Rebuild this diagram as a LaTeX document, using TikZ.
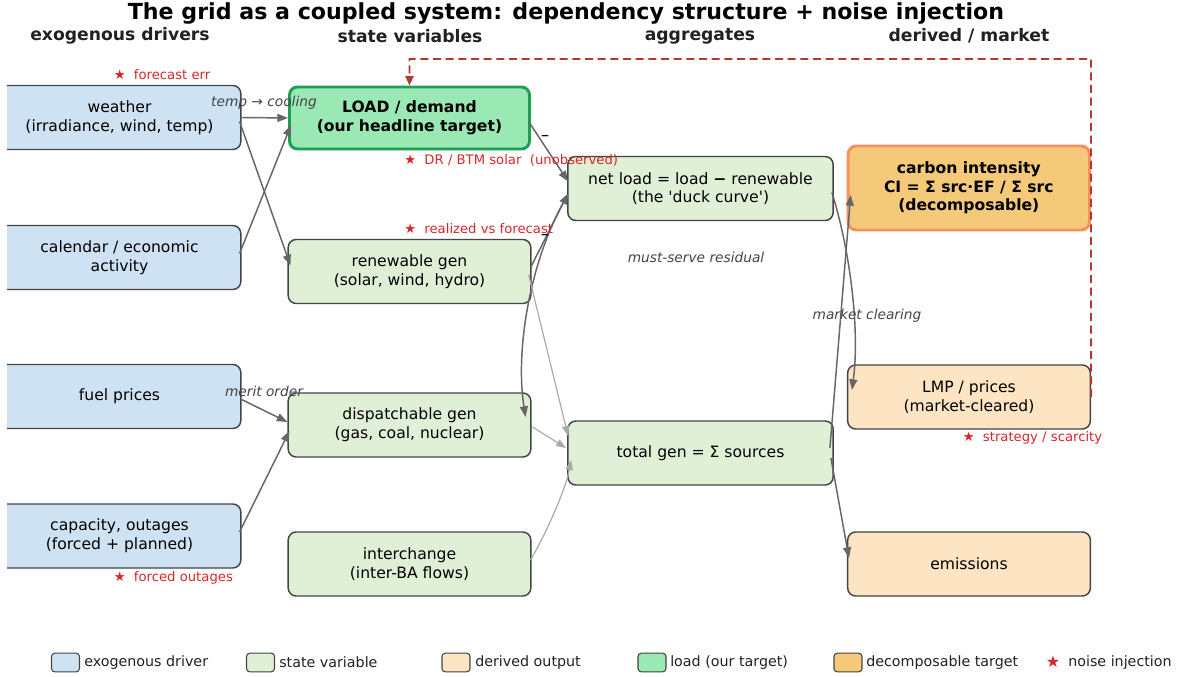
\documentclass[tikz,border=0pt]{standalone}
\usepackage{fontspec}
\setmainfont{DejaVu Sans}[Ligatures=TeXOff]
\usetikzlibrary{arrows.meta,calc}
\definecolor{exo}{HTML}{CFE2F3}
\definecolor{state}{HTML}{E0F0D6}
\definecolor{deriv}{HTML}{FDE4C2}
\definecolor{loadc}{HTML}{9AE8B4}
\definecolor{decomp}{HTML}{F4C97A}
\definecolor{edgeg}{HTML}{444444}
\definecolor{conn}{HTML}{666666}
\definecolor{lightc}{HTML}{AAAAAA}
\definecolor{noise}{HTML}{D62728}
\definecolor{fb}{HTML}{B03A2E}
\definecolor{loadb}{HTML}{1E9E52}
\definecolor{cib}{HTML}{F79060}
\tikzset{
  box/.style={draw=edgeg, line width=1.1pt, rounded corners=6pt, minimum width=182pt,
    minimum height=48pt, align=center, inner sep=0pt, text=black,
    font=\fontsize{11.7}{14}\selectfont},
  widebox/.style={box, minimum width=199pt},
  conn/.style={draw=conn, line width=1.1pt, -{Triangle[length=8pt,width=6pt]}},
  lconn/.style={draw=lightc, line width=0.9pt, -{Triangle[length=7.5pt,width=5.5pt]}},
  elabel/.style={font=\fontsize{10.3}{12}\selectfont\itshape, text=edgeg, inner sep=0pt},
  noiselbl/.style={font=\fontsize{9.9}{12}\selectfont, text=noise, anchor=west, inner sep=0pt},
  header/.style={font=\fontsize{12.9}{15}\selectfont\bfseries, text=black!87, inner sep=0pt},
  legbox/.style={draw=edgeg, line width=0.8pt, rounded corners=2.5pt, minimum width=21pt,
    minimum height=14pt, inner sep=0pt},
  legtext/.style={font=\fontsize{10.7}{12}\selectfont, text=black!87, anchor=west, inner sep=0pt},
  tick/.style={font=\fontsize{8}{9}\selectfont\bfseries, text=black, inner sep=0pt}
}
\begin{document}
\begin{tikzpicture}[x=0.75pt,y=-0.75pt]
\useasboundingbox (0,0) rectangle (1178,677);

% title and column headers
\node[font=\fontsize{16.6}{19}\selectfont\bfseries, inner sep=0pt] (title) at (566,13)
  {The grid as a coupled system: dependency structure + noise injection};
\node[header] (h1) at (120,36) {exogenous drivers};
\node[header] (h2) at (410,36) {state variables};
\node[header] (h3) at (700,36) {aggregates};
\node[header] (h4) at (969,36) {derived / market};

% exogenous drivers (clipped at left edge)
\begin{scope}
\clip (7,0) rectangle (1178,677);
\node[box, fill=exo] (weather) at (119.5,117.5) {weather\\(irradiance, wind, temp)};
\node[box, fill=exo] (cal) at (119.5,257.5) {calendar / economic\\activity};
\node[box, fill=exo] (fuel) at (119.5,396.5) {fuel prices};
\node[box, fill=exo] (cap) at (119.5,536) {capacity, outages\\(forced + planned)};
\end{scope}

% state variables
\node[box, fill=loadc, draw=loadb, line width=2.2pt, minimum width=180pt, minimum height=46.5pt,
  font=\fontsize{11.7}{14}\selectfont\bfseries] (load) at (409.5,118) {LOAD / demand\\(our headline target)};
\node[box, fill=state] (renew) at (409.5,271.5) {renewable gen\\(solar, wind, hydro)};
\node[box, fill=state] (disp) at (409.5,425) {dispatchable gen\\(gas, coal, nuclear)};
\node[box, fill=state] (inter) at (409.5,564) {interchange\\(inter-BA flows)};

% aggregates
\node[widebox, fill=state] (net) at (700.5,188.5) {net load = load {\bfseries−} renewable\\(the 'duck curve')};
\node[widebox, fill=state] (tot) at (700.5,453) {total gen = Σ sources};

% derived / market
\node[box, fill=decomp, draw=cib, line width=2.2pt, minimum width=181pt, minimum height=63pt,
  font=\fontsize{11.7}{14}\selectfont\bfseries] (ci) at (968.8,188) {carbon intensity\\CI = Σ src·EF / Σ src\\(decomposable)};
\node[box, fill=deriv] (lmp) at (969,397) {LMP / prices\\(market-cleared)};
\node[box, fill=deriv] (emis) at (969,564) {emissions};

% connectors: drivers -> state
\draw[conn] (weather.east) -- (load.west);
\draw[conn] ($(weather.east)+(-2,4)$) -- ($(renew.west)+(3,-6)$);
\draw[conn] ($(cal.east)+(-2,-4)$) -- ($(load.west)+(3,7)$);
\draw[conn] ($(fuel.east)+(0,3)$) -- ($(disp.west)+(0,-3)$);
\draw[conn] ($(cap.east)+(-2,-4)$) -- ($(disp.west)+(2,6)$);

% state -> aggregates
\draw[conn] ($(load.east)+(-2,4)$) -- ($(net.west)+(1,-7)$);
\draw[conn] ($(renew.east)+(-1,-4)$) -- ($(net.west)+(1,5)$);
\draw[conn] ($(net.west)+(-1,9)$) .. controls (530,260) and (515,350) .. ($(disp.east)+(-6,-8)$);
\draw[lconn] ($(renew.east)+(-3,3)$) -- ($(tot.west)+(1,-17)$);
\draw[lconn] ($(disp.east)+(1,2)$) -- ($(tot.west)+(-1,-5)$);
\draw[lconn] ($(inter.east)+(-1,-4)$) .. controls (545,535) and (565,492) .. ($(tot.west)+(4,7)$);

% aggregates -> derived
\draw[conn] ($(net.east)+(-2,4)$) .. controls (850,250) and (860,330) .. ($(lmp.west)+(5,-7)$);
\draw[conn] ($(tot.east)+(-4,-5)$) -- ($(ci.west)+(4,7)$);
\draw[conn] ($(tot.east)+(-3,5)$) -- ($(emis.west)+(2,-6)$);

% feedback
\draw[draw=fb, line width=1.4pt, dash pattern=on 6pt off 3.5pt, -{Triangle[length=7pt,width=6pt]}]
  (lmp.east) -- (1091,59) -- (409.5,59) -- (load.north);

% edge labels
\node[elabel] (l1) at (264,103) {temp → cooling};
\node[elabel] (l2) at (264,391) {merit order};
\node[elabel] (l3) at (696,257) {must-serve residual};
\node[elabel] (l4) at (867,316) {market clearing};
\node[tick] (t1) at (545,137.5) {−};
\node[tick] (t2) at (545,237) {−};

% noise labels
\node[noiselbl] (n1) at (113.5,75) {★~~forecast err};
\node[noiselbl] (n2) at (404,160) {★~~DR / BTM solar~~(unobserved)};
\node[noiselbl] (n3) at (404,229) {★~~realized vs forecast};
\node[noiselbl] (n4) at (113.5,578) {★~~forced outages};
\node[noiselbl] (n5) at (962.5,438) {★~~strategy / scarcity};

% legend
\node[legbox, fill=exo] (g1) at (65.5,662.5) {};
\node[legtext] (g1t) at (84,662.5) {exogenous driver};
\node[legbox, fill=state] (g2) at (260.5,662.5) {};
\node[legtext] (g2t) at (279,662.5) {state variable};
\node[legbox, fill=deriv] (g3) at (456,662.5) {};
\node[legtext] (g3t) at (475,662.5) {derived output};
\node[legbox, fill=loadc] (g4) at (652,662.5) {};
\node[legtext] (g4t) at (670,662.5) {load (our target)};
\node[legbox, fill=decomp] (g5) at (848,662.5) {};
\node[legtext] (g5t) at (866,662.5) {decomposable target};
\node[font=\fontsize{12}{12}\selectfont, text=noise, inner sep=0pt] (g6) at (1053,662) {★};
\node[legtext] (g6t) at (1068,662.5) {noise injection};
\end{tikzpicture}
\end{document}
